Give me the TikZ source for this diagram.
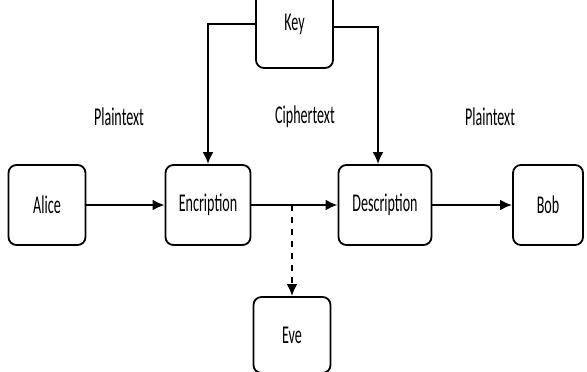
\documentclass[tikz,border=0pt]{standalone}
\usepackage{fontspec}
\newfontfamily\boxfont{Carlito}[FakeStretch=0.55]
\usetikzlibrary{arrows.meta}

\begin{document}
\begin{tikzpicture}[x=0.5pt, y=-0.5pt,
		party/.style = {draw, line width=0.9pt, rounded corners=4pt, minimum height=40pt, font=\boxfont\fontsize{12.8}{15}\selectfont},
		label/.style = {font=\boxfont\fontsize{12.8}{15}\selectfont},
		link/.style = {line width=1.4pt, -{Latex[length=6pt, width=5.5pt]}}]
		\useasboundingbox (0,0) rectangle (587,371);

		% the parties and the two boxes in the middle
		\node[party, minimum width=38.5pt] (alice) at (47,205) {Alice};
		\node[party, minimum width=42.5pt] (enc) at (208,205) {Encription};
		\node[party, minimum width=46.5pt] (dec) at (385,205) {Description};
		\node[party, minimum width=35pt] (bob) at (548,205) {Bob};
		\node[party, minimum width=38.5pt, minimum height=44pt] (key) at (294.5,24) {Key};
		\node[party, minimum width=38.5pt, minimum height=38pt] (eve) at (292,335) {Eve};

		% what travels along the line
		\node[label] (p1) at (119,117) {Plaintext};
		\node[label] (c1) at (305,117) {Ciphertext};
		\node[label] (p2) at (490,117) {Plaintext};

		% main line
		\draw[link] (alice) -- (enc);
		\draw[link] (enc) -- (dec);
		\draw[link] (dec) -- (bob);

		% key goes to both sides
		\draw[link] (key.west) -| (enc.north);
		\draw[link] ([yshift=-1.5pt]key.east) -| ([xshift=-3.5pt]dec.north);

		% eavesdropper taps the ciphertext
		\draw[link, dashed] (eve.north |- enc.east) -- (eve.north);
	\end{tikzpicture}
\end{document}
